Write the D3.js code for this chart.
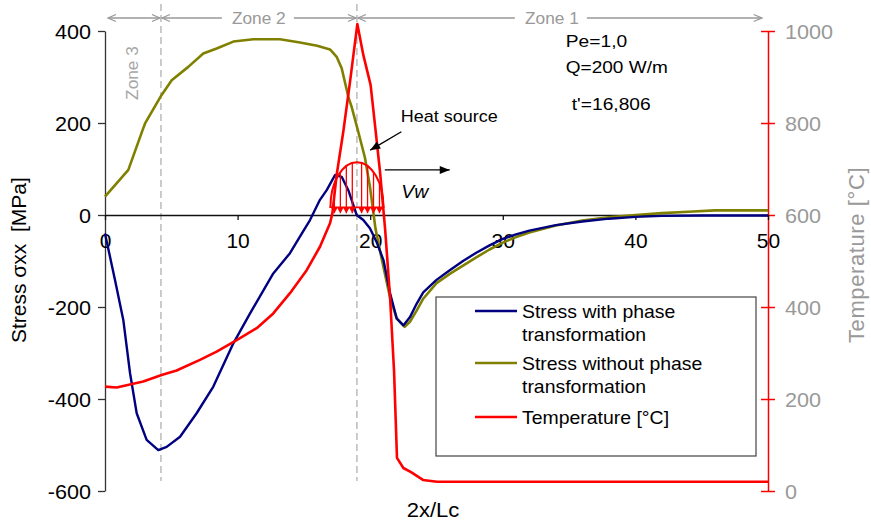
<!DOCTYPE html>
<html>
<head>
<meta charset="utf-8">
<script src="https://cdn.jsdelivr.net/npm/d3@7"></script>
<style>
  body { margin: 0; background: #fff; }
  svg { display: block; }
  text { font-family: "Liberation Sans", Arial, sans-serif; }
</style>
</head>
<body>
<div id="chart"></div>
<script>
// ---- data ----
const xTicks = [0, 10, 20, 30, 40, 50];
const stressTicks = [-600, -400, -200, 0, 200, 400];
const tempTicks = [0, 200, 400, 600, 800, 1000];

// stress with phase transformation [MPa]
const withPhaseX = [0, 0.75, 1.38, 1.89, 2.39, 3.14, 4.02, 4.65, 5.66, 6.91, 8.17, 9.68, 10.94, 12.69, 13.95, 14.7, 15.46, 16.21, 16.72, 17.35, 17.85, 18.35, 18.98, 19.48, 19.98, 20.5, 21.0, 21.5, 22.0, 22.5, 23.0, 23.5, 24, 25, 26, 27, 28, 29, 30, 31, 32, 34, 36, 38, 40, 42, 45, 50];
const withPhaseS = [-40, -141, -228, -344, -431, -489, -511, -504, -482, -431, -373, -279, -214, -127, -83, -47, -11, 33, 54, 87, 83, 54, 0, -11, -29, -60, -98, -170, -225, -240, -222, -193, -168, -141, -120, -100, -82, -66, -52, -42, -34, -22, -14, -8, -4, -2, -1, -1];

// stress without phase transformation [MPa]
const noPhaseX = [0, 1.76, 2.84, 3.02, 4.27, 5.03, 6.28, 7.41, 8.42, 9.68, 11.19, 13.2, 14.7, 16.0, 16.97, 17.47, 17.85, 18.35, 18.6, 19.1, 19.6, 20.0, 20.4, 20.9, 21.5, 22.0, 22.6, 23.0, 23.5, 24, 25, 26, 27, 28, 29, 30, 31, 32, 34, 36, 38, 40, 42, 44, 46, 50];
const noPhaseS = [40, 98, 185, 199, 261, 293, 322, 351, 362, 377, 382, 382, 375, 368, 360, 344, 319, 257, 235, 181, 125, 58, -30, -100, -180, -225, -243, -232, -208, -182, -148, -128, -110, -92, -75, -60, -48, -38, -23, -12, -5, 0, 4, 7, 10, 10];

// temperature [°C]
const tempX = [0, 0.88, 2.88, 4.27, 5.4, 7.16, 8.42, 9.93, 11.44, 12.69, 13.95, 15.21, 16.21, 16.97, 17.15, 17.47, 17.97, 18.48, 19.03, 19.48, 20.03, 20.36, 20.74, 21.12, 21.5, 21.8, 22.02, 22.5, 23.08, 23.98, 25.04, 50];
const tempV = [227, 225, 238, 252, 262, 285, 303, 328, 354, 386, 430, 480, 531, 582, 604, 687, 781, 890, 1015, 948, 883, 796, 694, 571, 420, 260, 72, 50, 41, 24, 20, 20];

// zones along 2x/Lc
const zoneEdges = [0.15, 4.22, 19.0, 49.6];
const zoneNames = ['Zone 3', 'Zone 2', 'Zone 1'];

// heat source distribution (arrows under the half-ellipse)
const heatFrom = 17, heatTo = 21;
const heatArrowX = [17.3, 17.75, 18.2, 18.65, 19.35, 19.8, 20.25, 20.7];

const legendNames = ['Stress with phase|transformation', 'Stress without phase|transformation', 'Temperature [°C]'];
const colors = ['#000080', '#808000', '#ff0000'];

// ---- layout ----
const W = 871, H = 521;
const x = d3.scaleLinear().domain([0, 50]).range([105, 768]);
const yS = d3.scaleLinear().domain([-600, 400]).range([491, 31]);
const yT = d3.scaleLinear().domain([0, 1000]).range([491, 31]);

const svg = d3.select('#chart').append('svg').attr('width', W).attr('height', H);

const defs = svg.append('defs');
function marker(id, d, fill, stroke, size) {
  defs.append('marker')
      .attr('id', id)
      .attr('viewBox', `${-size - 1} ${-size} ${size + 2} ${size * 2}`)
      .attr('refX', 0).attr('refY', 0)
      .attr('markerWidth', size + 2).attr('markerHeight', size * 2)
      .attr('markerUnits', 'userSpaceOnUse')
      .attr('orient', 'auto-start-reverse')
      .append('path')
      .attr('d', d)
      .attr('fill', fill)
      .attr('stroke', stroke)
      .attr('stroke-width', 1.3);
}
marker('zoneHead', 'M-8,-3.5L0,0L-8,3.5', 'none', '#999', 9);
marker('blackHead', 'M-10,-4L0,0L-10,4Z', '#000', 'none', 10);
marker('redHead', 'M-6,-3.5L0,0L-6,3.5Z', '#ff0000', 'none', 7);

// text helper (source chart text is slightly wide, so stretch horizontally)
function label(g, px, py, str, o) {
  o = o || {};
  const t = g.append('text')
      .attr('transform', `translate(${px},${py}) rotate(${o.rotate || 0}) scale(${o.sx || 1},1)`)
      .attr('text-anchor', o.anchor || 'start')
      .style('font-size', (o.size || 17) + 'px')
      .style('fill', o.color || '#000')
      .style('white-space', 'pre')
      .text(str);
  if (o.italic) t.style('font-style', 'italic');
  if (o.spacing) t.style('letter-spacing', o.spacing + 'px');
  return t;
}

// zone boundaries
const zoneLines = [zoneEdges[1], zoneEdges[2]];
svg.selectAll('.zoneDash').data(zoneLines).enter().append('line')
    .attr('x1', (d) => x(d)).attr('x2', (d) => x(d))
    .attr('y1', 4).attr('y2', 481)
    .attr('stroke', '#aaa').attr('stroke-width', 1.2)
    .attr('stroke-dasharray', '7,4');

const zoneG = svg.append('g');
for (let i = 0; i < zoneNames.length; i++) {
  zoneG.append('line')
      .attr('x1', x(zoneEdges[i]) + 1).attr('x2', x(zoneEdges[i + 1]) - 1)
      .attr('y1', 18).attr('y2', 18)
      .attr('stroke', '#999').attr('stroke-width', 1.3)
      .attr('marker-start', 'url(#zoneHead)')
      .attr('marker-end', 'url(#zoneHead)');
}
[[11.6, 'Zone 2'], [33.7, 'Zone 1']].forEach(([zx, name]) => {
  zoneG.append('rect')
      .attr('x', x(zx) - 37).attr('y', 8).attr('width', 72).attr('height', 20)
      .attr('fill', '#fff');
  label(zoneG, x(zx), 24, name, {anchor: 'middle', size: 16, sx: 1.08, color: '#999'});
});
label(zoneG, x(2.0) + 6, 73, zoneNames[0], {anchor: 'middle', size: 16, sx: 1.08, color: '#a6a6a6', rotate: -90});

// axes
const fmt = (d) => String(d);
const axLeft = svg.append('g').attr('transform', `translate(${x(0)},0)`)
    .call(d3.axisLeft(yS).tickValues(stressTicks).tickSize(7).tickSizeOuter(0).tickFormat(fmt));
axLeft.select('.domain').attr('stroke', '#333').attr('stroke-width', 1.3);
axLeft.selectAll('.tick line').attr('stroke', '#333').attr('stroke-width', 1.3);
axLeft.selectAll('.tick text')
    .attr('x', null).attr('dy', null)
    .attr('transform', 'translate(-14,7) scale(1.08,1)')
    .style('font-size', '20px').attr('fill', '#000');

const axRight = svg.append('g').attr('transform', `translate(${x(50)},0)`)
    .call(d3.axisRight(yT).tickValues(tempTicks).tickSize(7).tickSizeOuter(0).tickFormat(fmt));
axRight.select('.domain').attr('stroke', '#ff0000').attr('stroke-width', 1.5);
axRight.selectAll('.tick line').attr('x1', -7).attr('x2', 7).attr('stroke', '#ff0000').attr('stroke-width', 1.5);
axRight.selectAll('.tick text')
    .attr('x', null).attr('dy', null)
    .attr('transform', 'translate(17,7) scale(1.08,1)')
    .style('font-size', '20px').attr('fill', '#999');

const axBottom = svg.append('g').attr('transform', `translate(0,${yS(0)})`)
    .call(d3.axisBottom(x).tickValues(xTicks).tickSize(5).tickSizeOuter(0).tickFormat(fmt));
axBottom.select('.domain').attr('stroke', '#111').attr('stroke-width', 1.4);
axBottom.selectAll('.tick line').attr('stroke', '#111').attr('stroke-width', 1.3);
axBottom.selectAll('.tick text')
    .attr('y', null).attr('dy', null)
    .attr('transform', 'translate(0,33) scale(1.05,1)')
    .style('font-size', '20px').attr('fill', '#000');

// axis titles
label(svg, 26, 343, 'Stress \u03c3xx  [MPa]', {rotate: -90, size: 21});
label(svg, 864, 343, 'Temperature [°C]', {rotate: -90, size: 22, color: '#999', spacing: 0.6});
label(svg, 433, 517, '2x/Lc', {anchor: 'middle', size: 21, sx: 1.05});

// curves
const lineS = d3.line().x((d) => x(d[0])).y((d) => yS(d[1]));
const lineT = d3.line().x((d) => x(d[0])).y((d) => yT(d[1]));
svg.append('path').attr('d', lineS(d3.zip(noPhaseX, noPhaseS)))
    .attr('fill', 'none').attr('stroke', colors[1]).attr('stroke-width', 2.6).attr('stroke-linejoin', 'round');
svg.append('path').attr('d', lineS(d3.zip(withPhaseX, withPhaseS)))
    .attr('fill', 'none').attr('stroke', colors[0]).attr('stroke-width', 2.4).attr('stroke-linejoin', 'round');
svg.append('path').attr('d', lineT(d3.zip(tempX, tempV)))
    .attr('fill', 'none').attr('stroke', colors[2]).attr('stroke-width', 2.6).attr('stroke-linejoin', 'round');

// heat source sketch
const hs = svg.append('g');
const hsBase = yS(17), hsTop = yS(115);
const rx = (x(heatTo) - x(heatFrom)) / 2, ry = hsBase - hsTop, cx = x((heatFrom + heatTo) / 2);
hs.append('path')
    .attr('d', `M${x(heatFrom)},${hsBase} A${rx},${ry} 0 0 1 ${x(heatTo)},${hsBase}`)
    .attr('fill', 'none').attr('stroke', '#ff0000').attr('stroke-width', 2);
hs.append('line')
    .attr('x1', x(heatFrom) - 1).attr('x2', x(heatTo) + 1).attr('y1', hsBase).attr('y2', hsBase)
    .attr('stroke', '#ff0000').attr('stroke-width', 1.6);
hs.selectAll('.hsArrow').data(heatArrowX).enter().append('line')
    .attr('x1', (d) => x(d)).attr('x2', (d) => x(d))
    .attr('y1', (d) => hsBase - ry * Math.sqrt(Math.max(0, 1 - Math.pow((x(d) - cx) / rx, 2))))
    .attr('y2', hsBase + 6)
    .attr('stroke', '#ff0000').attr('stroke-width', 1.3)
    .attr('marker-end', 'url(#redHead)');

// annotations
label(svg, x(22.3), yS(202), 'Heat source', {size: 17, sx: 1.06});
svg.append('line')
    .attr('x1', x(22.35)).attr('y1', yS(181)).attr('x2', x(20.0)).attr('y2', yS(141))
    .attr('stroke', '#000').attr('stroke-width', 1.4).attr('marker-end', 'url(#blackHead)');
svg.append('line')
    .attr('x1', x(21.1)).attr('y1', yS(98)).attr('x2', x(26.0)).attr('y2', yS(98))
    .attr('stroke', '#000').attr('stroke-width', 1.4).attr('marker-end', 'url(#blackHead)');
label(svg, x(22.35), yS(37), 'Vw', {size: 18, sx: 1.08, italic: true});
label(svg, x(34.75), yS(365), 'Pe=1,0', {size: 17, sx: 1.13});
label(svg, x(34.75), yS(309), 'Q=200 W/m', {size: 17, sx: 1.12});
label(svg, x(35.2), yS(228), "t'=16,806", {size: 17, sx: 1.13});

// legend
const lg = svg.append('g');
lg.append('rect').attr('x', 436).attr('y', 297).attr('width', 320).attr('height', 159)
    .attr('fill', '#fff').attr('stroke', '#444').attr('stroke-width', 1.2);
const legendY = [311, 363, 417];
legendNames.forEach((name, i) => {
  lg.append('line').attr('x1', 475).attr('x2', 517).attr('y1', legendY[i]).attr('y2', legendY[i])
      .attr('stroke', colors[i]).attr('stroke-width', 2.6);
  name.split('|').forEach((part, j) => {
    label(lg, 522, legendY[i] + 7 + j * 23, part, {size: 18, sx: 1.08});
  });
});
</script>
</body>
</html>
